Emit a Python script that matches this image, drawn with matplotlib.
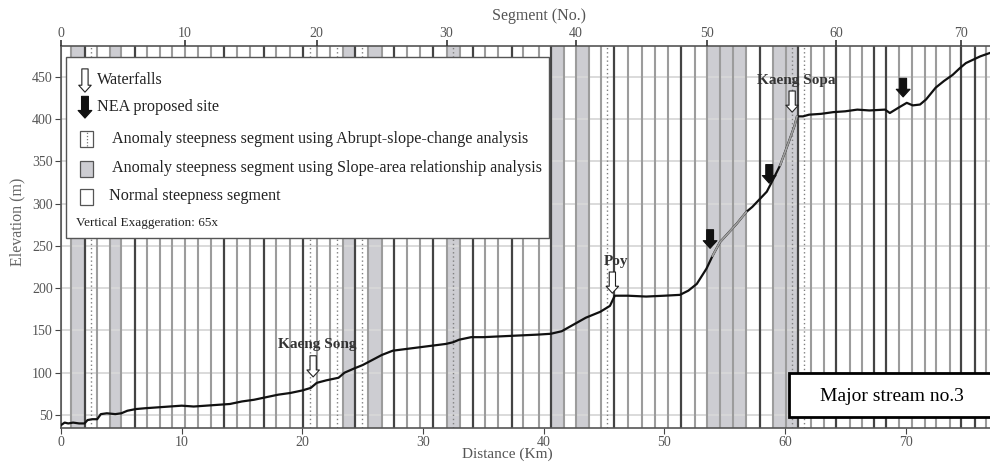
import numpy as np
import matplotlib
matplotlib.use('Agg')
from matplotlib import pyplot as plt
from matplotlib.patches import Rectangle

plt.rcParams['font.family'] = ['Liberation Serif', 'DejaVu Serif']

# segment boundaries along the stream (km)
seg_km = [0, 0.85, 1.96, 3.01, 4.03, 5.00, 6.11, 7.15, 8.18, 9.22, 10.25,
          11.35, 12.45, 13.50, 14.61, 15.63, 16.82, 17.84, 18.95, 20.07, 21.18,
          22.29, 23.39, 24.36, 25.46, 26.57, 27.59, 28.64, 29.74, 30.85, 31.96,
          33.06, 34.11, 35.13, 36.23, 37.34, 38.30, 39.58, 40.62, 41.65, 42.67,
          43.74, 44.74, 45.82, 47.02, 48.14, 49.21, 50.33, 51.41, 52.53, 53.52,
          54.60, 55.72, 56.81, 57.91, 59.01, 60.12, 61.08, 62.14, 63.21, 64.27,
          65.38, 66.36, 67.40, 68.41, 69.47, 70.55, 71.58, 72.55, 73.65, 74.62,
          75.72, 76.69]
slope_area_segs = [1, 4, 22, 24, 30, 38, 40, 50, 51, 52, 55, 56]
abrupt_segs = [2, 19, 21, 23, 30, 42, 56, 57]
dark_bounds = [2, 6, 13, 16, 19, 23, 26, 29, 32, 35, 38, 43, 48, 54, 57, 60, 63, 64, 70, 71]
faded_segs = [50, 51, 52, 55, 56]

# longitudinal profile
dist_km = [0.0, 0.3, 0.6, 1.0, 1.5, 1.95, 2.2, 2.6, 3.0, 3.3, 3.8, 4.5, 5.0, 5.5,
           6.2, 7.0, 8.0, 9.0, 10.0, 11.0, 12.0, 13.0, 14.0, 15.0, 16.0, 17.0,
           18.0, 19.0, 20.0, 20.7, 21.2, 22.0, 23.0, 23.5, 24.3, 25.0, 25.8, 26.6,
           27.5, 28.6, 29.7, 30.8, 31.9, 32.5, 33.0, 34.0, 35.0, 36.5, 38.0, 39.5,
           40.6, 41.5, 42.5, 43.5, 44.7, 45.5, 45.9, 47.0, 48.5, 50.0, 51.3, 52.0,
           52.7, 53.5, 54.0, 54.6, 55.3, 56.0, 56.8, 57.3, 57.9, 58.5, 58.9, 59.6,
           60.3, 60.8, 61.0, 61.5, 62.0, 63.0, 64.0, 65.0, 66.0, 67.0, 68.3, 68.7,
           69.5, 70.1, 70.6, 71.2, 71.7, 72.5, 73.2, 73.9, 74.5, 75.0, 75.6, 76.2, 77.0]
elev_m = [38, 41, 40, 41, 40, 40, 44, 45, 45, 51, 52, 51, 52, 55,
          57, 58, 59, 60, 61, 60, 61, 62, 63, 66, 68, 71,
          74, 76, 79, 82, 88, 91, 94, 100, 105, 109, 115, 121,
          126, 128, 130, 132, 134, 136, 139, 142, 142, 143, 144, 145,
          146, 149, 157, 165, 172, 179, 191, 191, 190, 191, 192, 197,
          205, 223, 238, 254, 265, 276, 290, 296, 305, 314, 325, 345,
          372, 392, 403, 403, 405, 406, 408, 409, 411, 410, 411, 407,
          414, 419, 416, 417, 423, 437, 445, 452, 460, 466, 470, 474, 478]

waterfalls = ['Kaeng Song', 'Poy', 'Kaeng Sopa']
wf_km = [20.9, 45.7, 60.6]
wf_tip = [95, 194, 408]
nea_km = [53.8, 58.7, 69.8]
nea_tip = [247, 324, 426]

ARROW = 'simple,head_length=0.5,head_width=0.9,tail_width=0.45'

fig = plt.figure(figsize=(9.9, 4.63), dpi=100)
ax = fig.add_axes([61/990, 1 - 427.5/463, 929/990, 381.5/463])
ax.set_xlim(0, 77)
ax.set_ylim(35.2, 486.2)

# segment bands and boundaries
for i in slope_area_segs:
    ax.axvspan(seg_km[i], seg_km[i+1], color='#cdcdd2', lw=0, zorder=0.2)
for i, x in enumerate(seg_km):
    if i in dark_bounds:
        ax.axvline(x, color='#444444', lw=1.6, zorder=2)
    else:
        ax.axvline(x, color='#9c9c9c', lw=1.5, zorder=2)
for i in abrupt_segs:
    ax.axvline((seg_km[i] + seg_km[i+1]) / 2, color='#808080', lw=1,
               ls=(0, (1, 2)), zorder=2)

ax.yaxis.grid(True, color='#d8d8d8', lw=1.3)
ax.set_axisbelow(True)

# profile
d = np.array(dist_km)
e = np.array(elev_m, dtype=float)
ax.plot(d, e, color='#111111', lw=1.6, zorder=4)
mask = np.zeros(len(d), bool)
for i in faded_segs:
    mask |= (d >= seg_km[i] - 0.01) & (d <= seg_km[i+1] + 0.01)
ax.plot(d, np.where(mask, e, np.nan), color='#a0a0a0', lw=1.3, zorder=4.5)

# waterfalls and proposed sites
for name, x, y in zip(waterfalls, wf_km, wf_tip):
    ax.annotate('', xy=(x, y), xytext=(x, y + 25),
                arrowprops=dict(arrowstyle=ARROW, fc='white', ec='#222222', lw=0.8,
                                shrinkA=0, shrinkB=0, mutation_scale=10), zorder=6)
    ax.text(x + 0.3, y + 38, name, ha='center', va='center', fontsize=11,
            fontweight='bold', color='#333333', zorder=6)
for x, y in zip(nea_km, nea_tip):
    ax.annotate('', xy=(x, y), xytext=(x, y + 22),
                arrowprops=dict(arrowstyle=ARROW, fc='#111111', ec='#111111', lw=0.8,
                                shrinkA=0, shrinkB=0, mutation_scale=11), zorder=6)

# legend box
T = ax.transAxes
ax.add_patch(Rectangle((0.0054, 0.497), 0.52, 0.474, transform=T, fc='white',
                       ec='#555555', lw=1, zorder=7))
ax.annotate('', xy=(0.0258, 0.879), xytext=(0.0258, 0.940), xycoords=T, textcoords=T,
            arrowprops=dict(arrowstyle=ARROW, fc='white', ec='#222222', lw=0.8,
                            shrinkA=0, shrinkB=0, mutation_scale=10), zorder=8)
ax.annotate('', xy=(0.0258, 0.811), xytext=(0.0258, 0.868), xycoords=T, textcoords=T,
            arrowprops=dict(arrowstyle=ARROW, fc='#111111', ec='#111111', lw=0.8,
                            shrinkA=0, shrinkB=0, mutation_scale=11), zorder=8)
for yb, fc in [(0.735, 'white'), (0.657, '#cdcdd2'), (0.583, 'white')]:
    ax.add_patch(Rectangle((0.0205, yb), 0.014, 0.042, transform=T, fc=fc,
                           ec='#555555', lw=0.9, zorder=8))
ax.plot([0.0275, 0.0275], [0.737, 0.775], transform=T, color='#777777', lw=0.9,
        ls=(0, (1, 1.5)), zorder=9)
leg_txt = [(0.0388, 0.911, 'Waterfalls'),
           (0.0388, 0.840, 'NEA proposed site'),
           (0.0549, 0.756, 'Anomaly steepness segment using Abrupt-slope-change analysis'),
           (0.0549, 0.680, 'Anomaly steepness segment using Slope-area relationship analysis'),
           (0.0517, 0.607, 'Normal steepness segment')]
for x, y, s in leg_txt:
    ax.text(x, y, s, transform=T, fontsize=11.6, va='center', color='#222222', zorder=9)
ax.text(0.016, 0.536, 'Vertical Exaggeration: 65x', transform=T, fontsize=9.5,
        va='center', color='#222222', zorder=9)

# stream label
ax.add_patch(Rectangle((0.784, 0.0275), 0.23, 0.1155, transform=T, fc='white',
                       ec='black', lw=2, zorder=7, clip_on=False))
ax.text(0.8945, 0.082, 'Major stream no.3', transform=T, fontsize=14, ha='center',
        va='center', color='black', zorder=8)

# axes styling
ax.set_xticks(range(0, 80, 10))
ax.set_yticks(range(50, 500, 50))
ax.tick_params(labelsize=10, colors='#444444', labelcolor='#555555', length=4, pad=2)
ax.set_xlabel('Distance (Km)', fontsize=11, color='#555555')
ax.xaxis.set_label_coords(0.48, -0.052)
ax.set_ylabel('Elevation (m)', fontsize=11.5, color='#666666')
ax.yaxis.set_label_coords(-0.038, 0.54)
for s in ['left', 'bottom', 'top']:
    ax.spines[s].set_color('#555555')
    ax.spines[s].set_linewidth(1.2)
ax.spines['right'].set_visible(False)

top = ax.twiny()
top.set_xlim(ax.get_xlim())
top.set_xticks([seg_km[i] for i in range(0, 71, 10)])
top.set_xticklabels([str(i) for i in range(0, 71, 10)])
top.tick_params(labelsize=10, colors='#333333', labelcolor='#555555', length=4,
                width=1.2, pad=0)
top.set_xlabel('Segment (No.)', fontsize=11.5, color='#555555')
top.xaxis.set_label_coords(0.515, 1.068)
for s in top.spines.values():
    s.set_visible(False)

fig.savefig('out.png', dpi=100)
